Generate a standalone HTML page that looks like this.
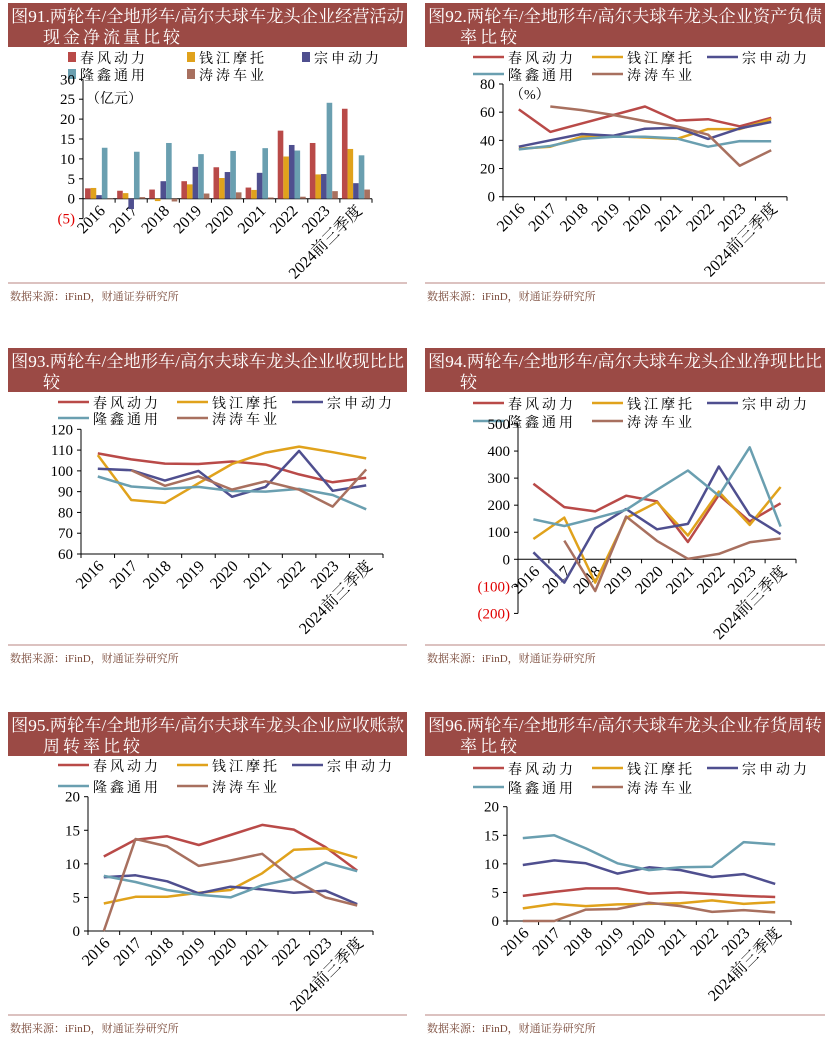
<!DOCTYPE html>
<html><head><meta charset="utf-8">
<style>
body{margin:0;background:#fff;width:830px;height:1041px;overflow:hidden;position:relative;font-family:"Liberation Serif","Noto Serif CJK SC",serif;}
svg{position:absolute;left:0;top:0;}
</style></head>
<body>
<svg id="pg" width="830" height="1041" viewBox="0 0 830 1041"></svg>
<script>
const categories=["2016","2017","2018","2019","2020","2021","2022","2023","2024前三季度"];
const seriesNames=["春风动力","钱江摩托","宗申动力","隆鑫通用","涛涛车业"];
// chart 91 operating cash flow (亿元)
const c91_chunfeng=[2.6,2.0,2.3,4.4,7.9,2.8,17.1,14.0,22.6];
const c91_qianjiang=[2.7,1.4,-0.6,3.6,5.2,2.2,10.6,6.1,12.5];
const c91_zongshen=[0.9,-2.6,4.4,8.0,6.7,6.5,13.5,6.2,3.9];
const c91_longxin=[12.8,11.8,14.0,11.2,12.0,12.7,12.1,24.1,10.9];
const c91_taotao=[0,0.4,-0.7,1.3,1.6,0.3,0.5,1.9,2.3];
const c91_ticks=[30,25,20,15,10,5,0,-5];
// chart 92 debt ratio (%)
const c92_chunfeng=[62,46,52,58,64,54,55,50,56];
const c92_qianjiang=[34,35.5,42.6,43,42,41,48,48,55];
const c92_zongshen=[35.5,40,44.5,43.3,48.3,49,41,48.5,53];
const c92_longxin=[33.6,36,41,42.6,42.6,41.4,35.5,39.5,39.3];
const c92_taotao=[null,64,61.5,58,53.7,50,44,22,33];
const c92_ticks=[80,60,40,20,0];
// chart 93
const c93_chunfeng=[108.4,105.5,103.5,103.3,104.5,103,98.3,94.5,96.7];
const c93_qianjiang=[107.6,86,84.6,94,103.3,108.8,111.7,109,106];
const c93_zongshen=[101,100.3,95.3,100,87.5,92.3,109.6,90.4,93];
const c93_longxin=[97.3,92.5,91.3,92.3,90.3,90,91.3,88.4,81.5];
const c93_taotao=[null,100.3,92.8,97.4,91,95,91,82.8,100.7];
const c93_ticks=[120,110,100,90,80,70,60];
// chart 94
const c94_chunfeng=[279,193,177,235,214,64,238,140,207];
const c94_qianjiang=[75,154,-86,152,211,88,250,127,267];
const c94_zongshen=[26,-86,115,186,111,131,343,164,93];
const c94_longxin=[148,123,152,183,257,328,235,414,121];
const c94_taotao=[null,69,-117,158,68,2,20,63,77];
const c94_ticks=[500,400,300,200,100,0,-100,-200];
// chart 95
const c95_chunfeng=[11.1,13.6,14.1,12.8,14.3,15.8,15.1,12.5,9.0];
const c95_qianjiang=[4.1,5.1,5.1,5.7,6.1,8.6,12.1,12.3,10.9];
const c95_zongshen=[8.0,8.3,7.4,5.6,6.6,6.2,5.7,6.0,4.0];
const c95_longxin=[8.2,7.3,6.1,5.4,5.0,6.8,7.8,10.2,8.9];
const c95_taotao=[0,13.7,12.6,9.7,10.5,11.5,7.7,5.0,3.8];
const c95_ticks=[20,15,10,5,0];
// chart 96
const c96_chunfeng=[4.4,5.1,5.7,5.7,4.8,5.0,4.7,4.4,4.2];
const c96_qianjiang=[2.2,3.0,2.6,2.9,3.0,3.1,3.6,3.0,3.3];
const c96_zongshen=[9.8,10.6,10.1,8.3,9.4,8.9,7.7,8.2,6.5];
const c96_longxin=[14.5,15.0,12.7,10.1,8.9,9.4,9.5,13.8,13.4];
const c96_taotao=[0,0,2.0,2.1,3.2,2.6,1.6,1.9,1.5];
const c96_ticks=[20,15,10,5,0];

const colors=["#b94a48","#e0a21c","#4f4f8f","#6a9fb0","#a8705f"];
const NS="http://www.w3.org/2000/svg";
const pg=document.getElementById('pg');
function mk(tag,attrs,parent,text){const e=document.createElementNS(NS,tag);for(const k in attrs)e.setAttribute(k,attrs[k]);if(text!==undefined)e.textContent=text;(parent||pg).appendChild(e);return e;}

const charts=[
 {id:91,col:0,top:3,t1:"图91.两轮车/全地形车/高尔夫球车龙头企业经营活动",t2:"现金净流量比较",data:[c91_chunfeng,c91_qianjiang,c91_zongshen,c91_longxin,c91_taotao],ticks:c91_ticks,x0:83,x1:372,pTop:79.3,vTop:30,pBot:198.7,vBot:0,leg:[57,74],bar:true,unit:"（亿元）",ux:86,uy:103,sepY:283},
 {id:92,col:1,top:3,t1:"图92.两轮车/全地形车/高尔夫球车龙头企业资产负债",t2:"率比较",data:[c92_chunfeng,c92_qianjiang,c92_zongshen,c92_longxin,c92_taotao],ticks:c92_ticks,x0:503,x1:787,pTop:84,vTop:80,pBot:196.7,vBot:0,leg:[57,74],unit:"（%）",ux:510,uy:99,sepY:283},
 {id:93,col:0,top:348,t1:"图93.两轮车/全地形车/高尔夫球车龙头企业收现比比",t2:"较",data:[c93_chunfeng,c93_qianjiang,c93_zongshen,c93_longxin,c93_taotao],ticks:c93_ticks,x0:81,x1:383,pTop:429.3,vTop:120,pBot:554,vBot:60,leg:[402,418],sepY:645},
 {id:94,col:1,top:348,t1:"图94.两轮车/全地形车/高尔夫球车龙头企业净现比比",t2:"较",data:[c94_chunfeng,c94_qianjiang,c94_zongshen,c94_longxin,c94_taotao],ticks:c94_ticks,x0:518,x1:796,pTop:424,vTop:500,pBot:559.3,vBot:0,leg:[403,421],sepY:645},
 {id:95,col:0,top:712,t1:"图95.两轮车/全地形车/高尔夫球车龙头企业应收账款",t2:"周转率比较",data:[c95_chunfeng,c95_qianjiang,c95_zongshen,c95_longxin,c95_taotao],ticks:c95_ticks,x0:88,x1:373,pTop:796.7,vTop:20,pBot:931,vBot:0,leg:[765,786],sepY:1015},
 {id:96,col:1,top:712,t1:"图96.两轮车/全地形车/高尔夫球车龙头企业存货周转",t2:"率比较",data:[c96_chunfeng,c96_qianjiang,c96_zongshen,c96_longxin,c96_taotao],ticks:c96_ticks,x0:507,x1:791,pTop:806.7,vTop:20,pBot:921,vBot:0,leg:[768,787],sepY:1015}
];

charts.forEach(c=>{
 const hx=c.col?425:8, hw=c.col?400:399;
 const g=mk('g',{});
 
 
 const hdr=mk('rect',{x:hx,y:c.top,width:hw,height:44,fill:'#9b4a45'},g);
 
 
 const t1=mk('text',{x:hx+3,y:c.top+19,fill:'#fff','font-size':17,textLength:hw-6,lengthAdjust:'spacingAndGlyphs'},g,c.t1);
 
 
 const t2=mk('text',{x:hx+35,y:c.top+40,fill:'#fff','font-size':17,'letter-spacing':3},g,c.t2);
 
 
 const lb=c.col?473:58;
 const lx=[lb,lb+119,lb+234,lb,lb+119];
 seriesNames.forEach((n,i)=>{
  const ly=c.leg[i<3?0:1];
  const le=mk('g',{},g);
  
  
  if(c.bar){mk('rect',{x:lx[i]+10,y:ly-5,width:8,height:10,fill:colors[i]},le);
   mk('text',{x:lx[i]+22,y:ly+6,'font-size':14,'letter-spacing':3,fill:'#000'},le,n);}
  else{mk('line',{x1:lx[i],x2:lx[i]+31,y1:ly,y2:ly,stroke:colors[i],'stroke-width':2.5},le);
   mk('text',{x:lx[i]+35,y:ly+6,'font-size':14,'letter-spacing':3,fill:'#000'},le,n);}
 });
 const yS=v=>c.pBot+(v-c.vBot)*(c.pTop-c.pBot)/(c.vTop-c.vBot);
 const w=(c.x1-c.x0)/categories.length;
 const xS=i=>c.x0+w*(i+0.5);
 const minT=Math.min(...c.ticks), maxT=Math.max(...c.ticks);
 const zy=yS(Math.max(0,minT));
 const ya=mk('line',{x1:c.x0,x2:c.x0,y1:yS(maxT),y2:yS(minT),stroke:'#000','stroke-width':1},g);
 
 
 c.ticks.forEach(t=>{
  mk('line',{x1:c.x0-4,x2:c.x0,y1:yS(t),y2:yS(t),stroke:'#000'},g);
  const tl=mk('text',{x:c.x0-8,y:yS(t)+5,'text-anchor':'end','font-size':15,fill:t<0?'#e00000':'#000'},g,t<0?'('+(-t)+')':String(t));
  
  
 });
 const xa=mk('line',{x1:c.x0,x2:c.x1,y1:zy,y2:zy,stroke:'#000'},g);
 
 
 for(let i=0;i<=categories.length;i++) mk('line',{x1:c.x0+w*i,x2:c.x0+w*i,y1:zy,y2:zy+4,stroke:'#000'},g);
 categories.forEach((cat,i)=>{
  const px=xS(i)+7, py=zy+13;
  const tl=mk('text',{x:px,y:py,'text-anchor':'end','font-size':16,transform:`rotate(-45 ${px} ${py})`,fill:'#000'},g,cat);
  
  
 });
 if(c.unit){const u=mk('text',{x:c.ux,y:c.uy,'font-size':14,fill:'#000'},g,c.unit);
  
  }
 c.data.forEach((arr,si)=>{
  if(c.bar){
   const bw=5.6, off=(w-bw*5)/2;
   arr.forEach((v,i)=>{
    const x=c.x0+w*i+off+bw*si;
    const y0=yS(0), y1=yS(v);
    const r=mk('rect',{x:x,y:Math.min(y0,y1),width:bw,height:Math.max(0.5,Math.abs(y1-y0)),fill:colors[si]},g);
    
    
   });
  } else {
   let d='',pen=false;
   arr.forEach((v,i)=>{ if(v===null){pen=false;return;} d+=(pen?'L':'M')+xS(i).toFixed(1)+','+yS(v).toFixed(1)+' '; pen=true;});
   const p=mk('path',{d:d,fill:'none',stroke:colors[si],'stroke-width':2.5,'stroke-linejoin':'round'},g);
   
   
  }
 });
 const sep=mk('line',{x1:hx,x2:hx+hw,y1:c.sepY,y2:c.sepY,stroke:'#b98580','stroke-width':1},g);
 
 
 const src=mk('text',{x:hx+2,y:c.sepY+17,'font-size':11,fill:'#7a4a3a'},g,'数据来源：iFinD，财通证券研究所');
 
 
});
</script>
</body></html>
